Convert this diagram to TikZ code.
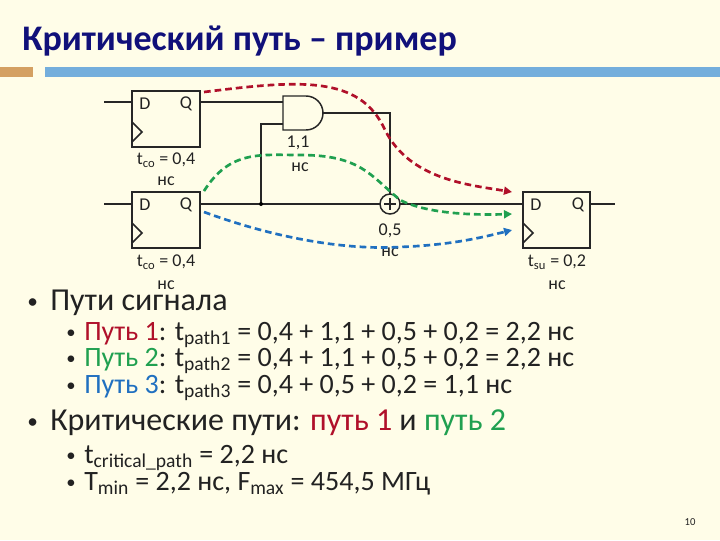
\documentclass[tikz,border=0pt]{standalone}
\usepackage{fontspec}
\setmainfont{Carlito}
\usetikzlibrary{arrows.meta}
\definecolor{bg}{HTML}{FFFDE8}
\definecolor{ttl}{HTML}{10107A}
\definecolor{bar}{HTML}{74AEDC}
\definecolor{obar}{HTML}{D4A062}
\definecolor{rd}{HTML}{B0102A}
\definecolor{gr}{HTML}{20A050}
\definecolor{bl}{HTML}{2070C0}
\definecolor{txt}{HTML}{222222}
\tikzset{
  wire/.style={line width=1.1pt,draw=black!85},
  ff/.style={draw=black!85,line width=1.1pt},
  lbl/.style={font=\fontsize{13.5}{14}\selectfont,text=txt,inner sep=0pt},
  path/.style={dashed,line width=2pt,dash pattern=on 5pt off 3pt,-{Triangle[length=6pt,width=6pt]}},
  bt/.style={anchor=base west,inner sep=0pt,text=txt},
}
\begin{document}
\begin{tikzpicture}[x=0.75pt,y=-0.75pt]
\fill[bg] (0,0) rectangle (720,540);
\useasboundingbox (0,0) rectangle (720,540);
\node[bt,font=\fontsize{27}{29}\selectfont\bfseries,text=ttl] (title) at (22,50) {Критический путь – пример};
\fill[obar] (0,67) rectangle (33,77);
\fill[bar] (45,67) rectangle (720,77);
% flip-flops
\draw[ff] (132,91) rectangle (200,147);
\draw[ff] (132,192) rectangle (200,248);
\draw[ff] (523,192) rectangle (590,248);
\foreach \x/\y in {132/147,132/248,523/248}{
  \draw[ff] (\x,\y-25) -- (\x+10,\y-15) -- (\x,\y-5);}
\node[lbl] (d1) at (145,104) {D}; \node[lbl] (q1) at (186,104) {Q};
\node[lbl] (d2) at (145,205) {D}; \node[lbl] (q2) at (186,205) {Q};
\node[lbl] (d3) at (536,205) {D}; \node[lbl] (q3) at (578,205) {Q};
% AND gate
\draw[ff] (283,96) -- (306,96) arc[start angle=-90,end angle=90,radius=17] -- (283,130) -- cycle;
% XOR circle
\draw[ff] (390,204) circle[radius=10];
\draw[wire] (384,204) -- (396,204) (390,198) -- (390,210);
% wires
\draw[wire] (104,102) -- (132,102);
\draw[wire] (200,102) -- (283,102);
\draw[wire] (104,204) -- (132,204);
\draw[wire] (200,204) -- (380,204);
\draw[wire] (283,124) -- (261,124) -- (261,204);
\fill (261,204) circle[radius=2];
\draw[wire] (323,113) -- (390,113) -- (390,194);
\draw[wire] (400,204) -- (523,204);
\draw[wire] (590,204) -- (615,204);
% labels
\node[lbl] (tco1) at (166,160) {t\textsubscript{co} = 0,4};
\node[lbl] (ns1) at (166,181) {нс};
\node[lbl] (tco2) at (166,262) {t\textsubscript{co} = 0,4};
\node[lbl] (ns2) at (166,285) {нс};
\node[lbl] (g1) at (298,143) {1,1};
\node[lbl] (g2) at (300,167) {нс};
\node[lbl] (x1) at (390,231) {0,5};
\node[lbl] (x2) at (390,252) {нс};
\node[lbl] (tsu) at (557,262) {t\textsubscript{su} = 0,2};
\node[lbl] (ns3) at (557,285) {нс};
% paths
\draw[path,rd] (204,92) .. controls (300,80) and (360,75) .. (385,130) .. controls (410,180) and (470,185) .. (512,192);
\draw[path,gr] (204,191) .. controls (230,150) and (260,155) .. (300,155) .. controls (360,155) and (370,175) .. (400,200) .. controls (430,215) and (480,215) .. (512,214);
\draw[path,bl] (204,212) .. controls (280,240) and (350,250) .. (400,247) .. controls (450,245) and (480,238) .. (512,230);
% text
\begin{scope}[font=\fontsize{24}{26}\selectfont]
\node[bt,font=\fontsize{16}{17}\selectfont] (b1) at (27,308) {•};
\node[bt] (t1) at (50,310) {Пути сигнала};
\node[bt,font=\fontsize{16}{17}\selectfont] (b2) at (27,428) {•};
\node[bt] (t2) at (50,430) {Критические пути: \textcolor{rd}{путь 1} и \textcolor{gr}{путь 2}};
\end{scope}
\begin{scope}[font=\fontsize{21}{22}\selectfont]
\foreach \y/\n in {340/1,366/2,393/3,463/4,490/5}
  \node[bt,font=\fontsize{14}{15}\selectfont] (sb\n) at (66,\y-2) {•};
\node[bt] (s1) at (84,340) {\textcolor{rd}{Путь 1}: t\textsubscript{path1} = 0,4 + 1,1 + 0,5 + 0,2 = 2,2 нс};
\node[bt] (s2) at (84,366) {\textcolor{gr}{Путь 2}: t\textsubscript{path2} = 0,4 + 1,1 + 0,5 + 0,2 = 2,2 нс};
\node[bt] (s3) at (84,393) {\textcolor{bl}{Путь 3}: t\textsubscript{path3} = 0,4 + 0,5 + 0,2 = 1,1 нс};
\node[bt] (s4) at (84,463) {t\textsubscript{critical\_path} = 2,2 нс};
\node[bt] (s5) at (84,490) {T\textsubscript{min} = 2,2 нс, F\textsubscript{max} = 454,5 МГц};
\end{scope}
\node[lbl,font=\fontsize{8}{9}\selectfont] (pg) at (690,522) {10};
\end{tikzpicture}
\end{document}
